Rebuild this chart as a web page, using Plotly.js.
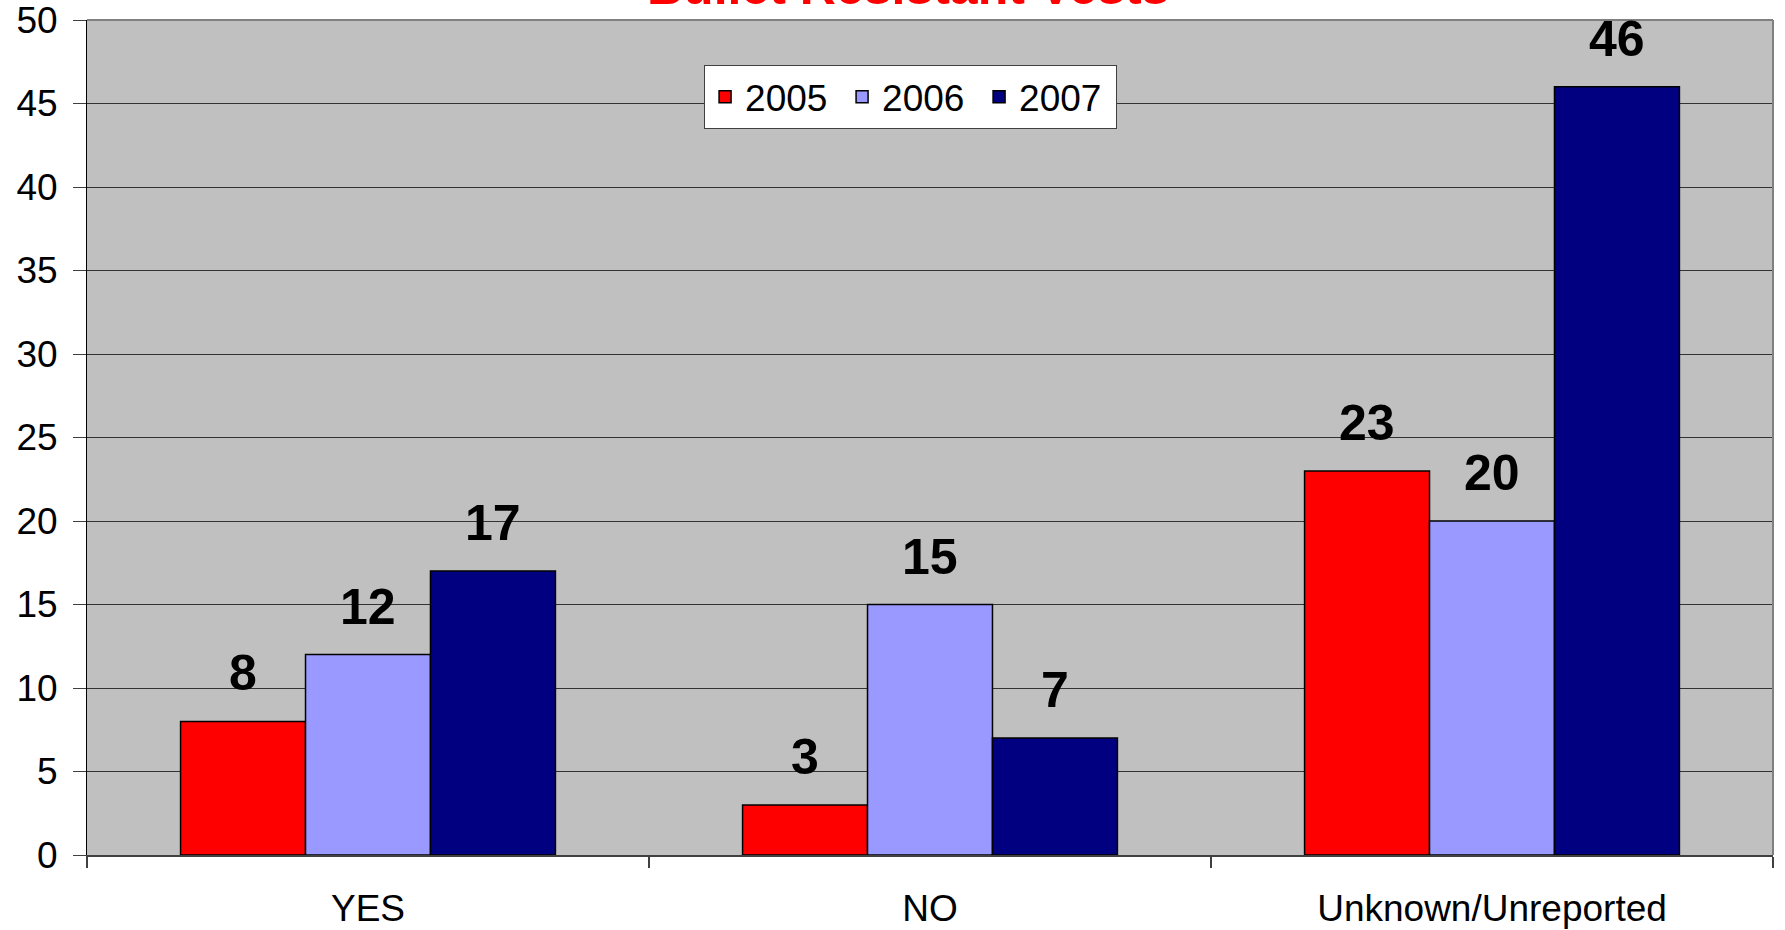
<!DOCTYPE html>
<html>
<head>
<meta charset="utf-8">
<script src="https://cdn.plot.ly/plotly-3.0.1.min.js"></script>
<style>html,body{margin:0;padding:0;background:#fff;}#chart{width:1785px;height:930px;}</style>
</head>
<body>
<div id="chart"></div>
<script>
const categories = ["YES", "NO", "Unknown/Unreported"];
const seriesNames = ["2005", "2006", "2007"];
const values2005 = [8, 3, 23];
const values2006 = [12, 15, 20];
const values2007 = [17, 7, 46];
const seriesColors = ["#FF0000", "#9999FF", "#000080"];
const chartTitle = "Bullet Resistant Vests";
const yTicks = [0, 5, 10, 15, 20, 25, 30, 35, 40, 45, 50];

const FONT = "Liberation Sans, Arial, sans-serif";
const allValues = [values2005, values2006, values2007];
const bargap = 0.333;
const barWidth = (1 - bargap) / allValues.length;

const traces = allValues.map((vals, i) => ({
  type: "bar",
  name: seriesNames[i],
  x: categories,
  y: vals,
  marker: {color: seriesColors[i], line: {color: "#000000", width: 1.5}},
  hoverinfo: "x+y+name"
}));

// data labels above bars
const annotations = [];
allValues.forEach((vals, i) => {
  const offset = (i - (allValues.length - 1) / 2) * barWidth;
  vals.forEach((v, j) => {
    annotations.push({
      x: j + offset, y: v, xref: "x", yref: "y",
      text: String(v), showarrow: false,
      yanchor: "bottom", xanchor: "center", yshift: 18,
      font: {family: FONT, size: 50, color: "#000000", weight: "bold"}
    });
  });
});
annotations.push({
  x: 0.487, y: 1.003, xref: "paper", yref: "paper",
  text: "<b>" + chartTitle + "</b>", showarrow: false,
  xanchor: "center", yanchor: "bottom",
  font: {family: FONT, size: 50, color: "#FF0000"}
});

const layout = {
  width: 1785, height: 930,
  margin: {l: 87, r: 12, t: 20, b: 75},
  paper_bgcolor: "#FFFFFF",
  plot_bgcolor: "#C0C0C0",
  barmode: "group",
  bargap: bargap,
  bargroupgap: 0,
  showlegend: true,
  legend: {
    orientation: "h",
    x: 0.366, y: 0.946, xanchor: "left", yanchor: "top",
    bgcolor: "#FFFFFF", bordercolor: "#404040", borderwidth: 1,
    font: {family: FONT, size: 37, color: "#000000"},
    entrywidth: 92, entrywidthmode: "pixels",
    traceorder: "normal"
  },
  xaxis: {
    type: "category",
    showline: true, linecolor: "#404040", linewidth: 2,
    ticks: "outside", tickson: "boundaries", ticklen: 11, tickcolor: "#404040", tickwidth: 1.5,
    tickfont: {family: FONT, size: 37, color: "#000000"},
    ticklabelstandoff: 20,
    showgrid: false, zeroline: false
  },
  yaxis: {
    range: [0, 50],
    tickvals: yTicks,
    ticktext: yTicks.map(String),
    showline: true, linecolor: "#000000", linewidth: 1,
    ticks: "outside", ticklen: 13, tickcolor: "#404040", tickwidth: 1,
    tickfont: {family: FONT, size: 37, color: "#000000"},
    ticklabelstandoff: 8,
    ticklabeloverflow: "allow",
    showgrid: true, gridcolor: "#333333", gridwidth: 1,
    zeroline: false
  },
  shapes: [
    {type: "line", xref: "paper", yref: "paper", x0: 0, x1: 1, y0: 1, y1: 1, line: {color: "#808080", width: 2}, layer: "above"},
    {type: "line", xref: "paper", yref: "paper", x0: 1, x1: 1, y0: 0, y1: 1, line: {color: "#808080", width: 2}, layer: "above"}
  ],
  annotations: annotations
};

Plotly.newPlot("chart", traces, layout, {displayModeBar: false, responsive: false});
</script>
</body>
</html>
